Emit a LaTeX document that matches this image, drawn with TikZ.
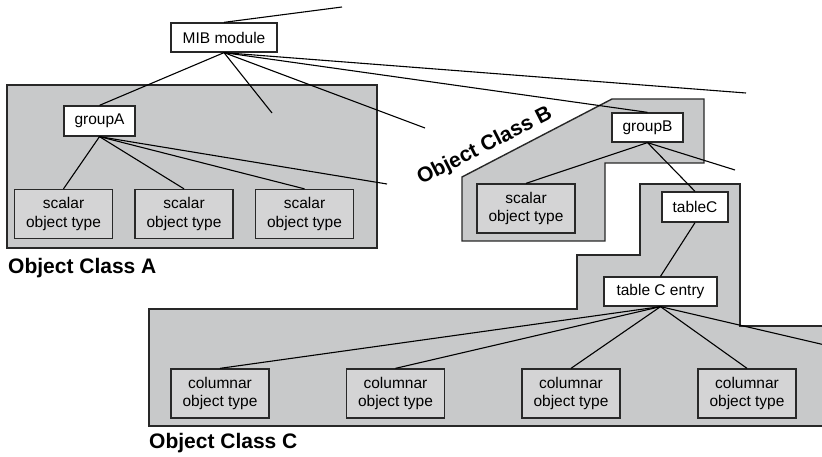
\documentclass[tikz,border=0pt]{standalone}
\usepackage{fontspec}
\setmainfont{Liberation Sans}
\definecolor{regfill}{RGB}{200,201,202}
\definecolor{boxfill}{RGB}{212,212,213}
\definecolor{edge}{RGB}{40,40,40}
\tikzset{
  region/.style={fill=regfill,draw=edge,line width=1.4pt},
  wbox/.style={draw=edge,fill=white,line width=1.3pt,inner sep=0pt,font=\fontsize{15.5}{18.5}\selectfont,align=center},
  gbox/.style={wbox,fill=boxfill,minimum width=98pt,minimum height=49pt},
  conn/.style={draw=black,line width=1.1pt},
  classlabel/.style={font=\fontsize{21}{24}\selectfont\bfseries,inner sep=0pt}
}
\begin{document}
\begin{tikzpicture}[x=1pt,y=-1pt]
\useasboundingbox (0,0) rectangle (822,457);
% regions
\draw[region] (7,85) rectangle (377,248);
\draw[region] (462,177) -- (612,99) -- (704,99) -- (704,163) -- (605,163) -- (605,241) -- (462,241) -- cycle;
\begin{scope}
\clip (0,0) rectangle (822,457);
\draw[region] (822,426) -- (149,426) -- (149,309) -- (577,309) -- (577,255) -- (640,255) -- (640,184) -- (740,184) -- (740,326) -- (830,326) -- (830,426) -- cycle;
\end{scope}
% nodes
\node[wbox,minimum width=106pt,minimum height=29pt] (mib) at (224,37.5) {MIB module};
\node[wbox,minimum width=71pt,minimum height=30pt] (ga) at (99.5,121) {groupA};
\node[gbox] (sa1) at (63.5,214) {scalar\\object type};
\node[gbox] (sa2) at (184,214) {scalar\\object type};
\node[gbox] (sa3) at (304.5,214) {scalar\\object type};
\node[wbox,minimum width=71pt,minimum height=29pt] (gb) at (647.5,127.5) {groupB};
\node[gbox] (sb) at (526,208.5) {scalar\\object type};
\node[wbox,minimum width=66pt,minimum height=30pt] (tc) at (695,207) {tableC};
\node[wbox,minimum width=113pt,minimum height=29pt] (tce) at (660.5,291.5) {table C entry};
\node[gbox] (c1) at (220,393.5) {columnar\\object type};
\node[gbox] (c2) at (395.5,393.5) {columnar\\object type};
\node[gbox] (c3) at (571,393.5) {columnar\\object type};
\node[gbox] (c4) at (747,393.5) {columnar\\object type};
% free ends
\coordinate (f0) at (342,7);
\coordinate (f1) at (272,113);
\coordinate (f2) at (425,128);
\coordinate (f3) at (746,93);
\coordinate (f4) at (387,184);
\coordinate (f5) at (735,170);
\coordinate (f6) at (825,345);
% connectors
\draw[conn] (mib.north) -- (f0);
\draw[conn] (mib.south) -- (ga.north);
\draw[conn] (mib.south) -- (f1);
\draw[conn] (mib.south) -- (f2);
\draw[conn] (mib.south) -- (gb.north);
\draw[conn] (mib.south) -- (f3);
\draw[conn] (ga.south) -- (sa1.north);
\draw[conn] (ga.south) -- (sa2.north);
\draw[conn] (ga.south) -- (sa3.north);
\draw[conn] (ga.south) -- (f4);
\draw[conn] (gb.south) -- (sb.north);
\draw[conn] (gb.south) -- (tc.north);
\draw[conn] (gb.south) -- (f5);
\draw[conn] (tc.south) -- (tce.north);
\draw[conn] (tce.south) -- (c1.north);
\draw[conn] (tce.south) -- (c2.north);
\draw[conn] (tce.south) -- (c3.north);
\draw[conn] (tce.south) -- (c4.north);
\draw[conn] (tce.south) -- (f6);
% labels
\node[classlabel,anchor=west] (la) at (8,268) {Object Class A};
\node[classlabel,rotate=27] (lb) at (485,146.5) {Object Class B};
\node[classlabel,anchor=west] (lc) at (149,443) {Object Class C};
\end{tikzpicture}
\end{document}
